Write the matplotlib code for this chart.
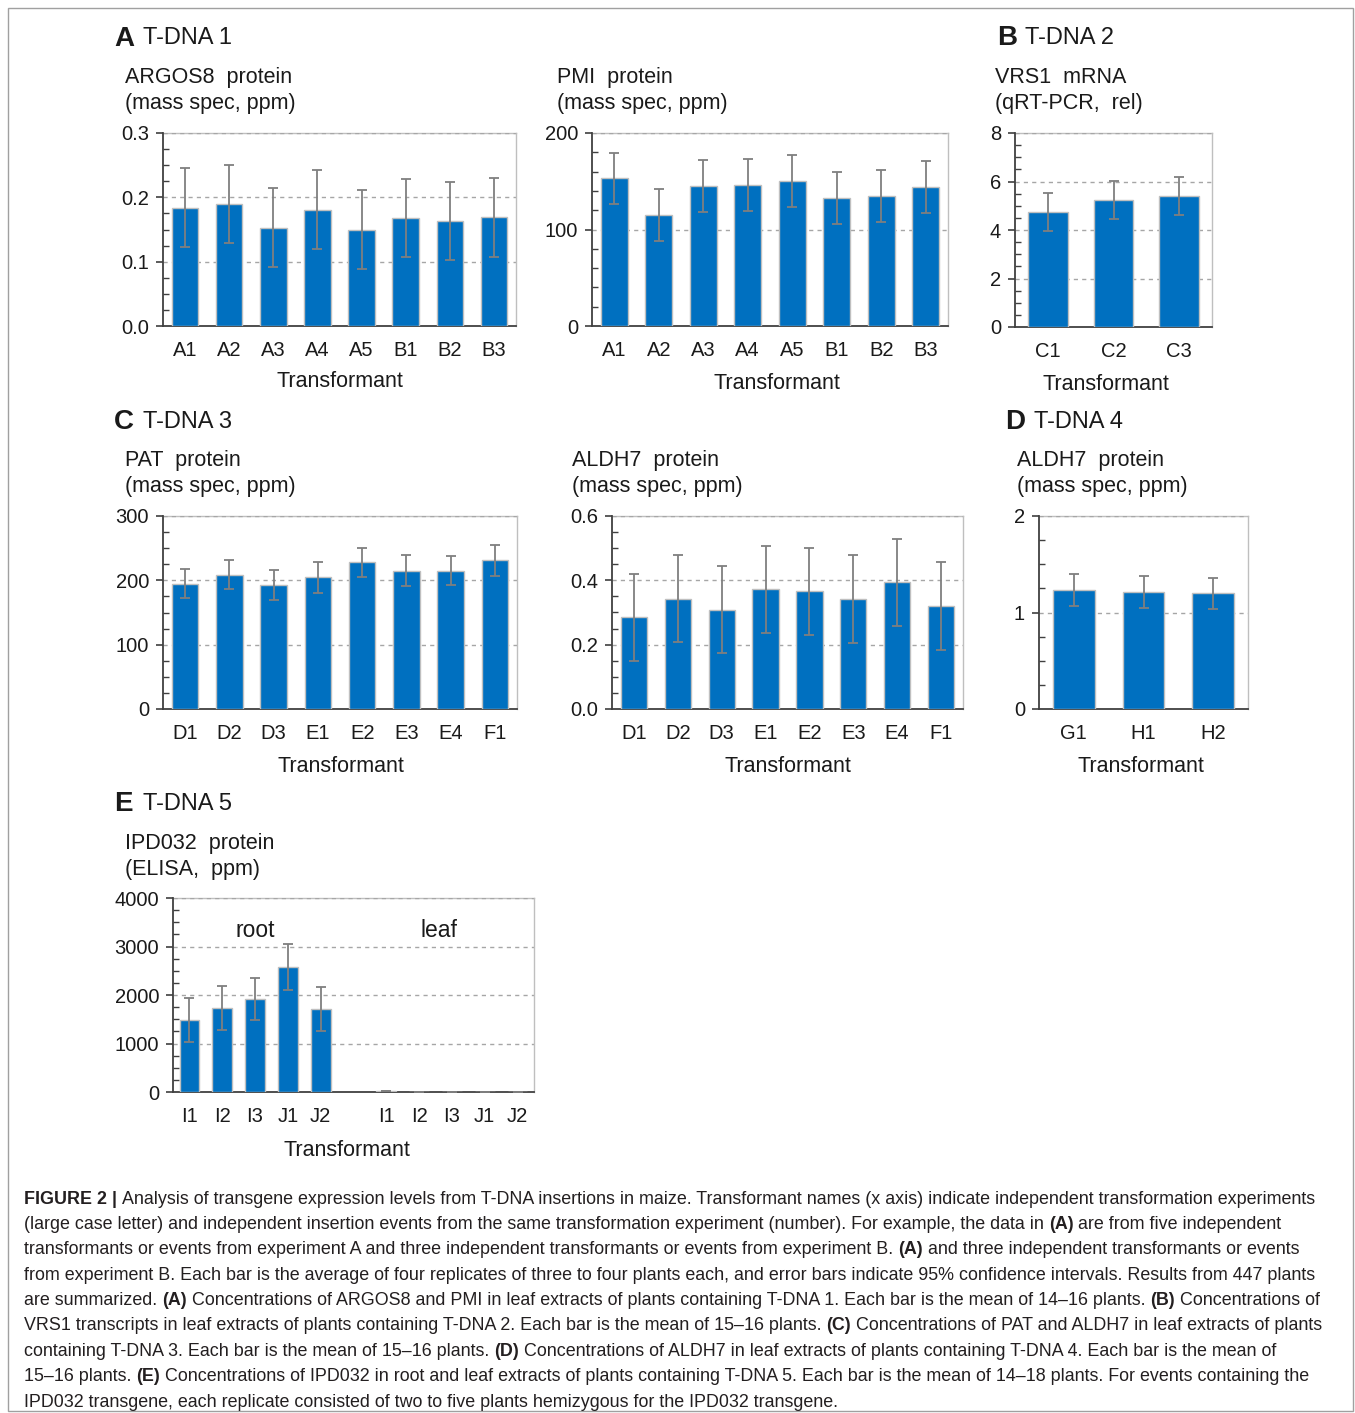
import matplotlib
matplotlib.use("Agg")
import matplotlib.pyplot as plt
from matplotlib.ticker import MultipleLocator, FormatStrFormatter
from matplotlib.patches import Rectangle

W, H = 1355, 1413
DPI = 100

# ---- data -------------------------------------------------------------
argos_labels = ["A1", "A2", "A3", "A4", "A5", "B1", "B2", "B3"]
argos_mean = [0.184, 0.190, 0.153, 0.181, 0.150, 0.168, 0.163, 0.169]
argos_ci = [0.061, 0.061, 0.061, 0.062, 0.061, 0.061, 0.061, 0.061]

pmi_labels = ["A1", "A2", "A3", "A4", "A5", "B1", "B2", "B3"]
pmi_mean = [153, 115, 145, 146, 150, 133, 135, 144]
pmi_ci = [26.5, 27, 27, 27, 27, 27, 27, 27]

vrs_labels = ["C1", "C2", "C3"]
vrs_mean = [4.73, 5.24, 5.41]
vrs_ci = [0.78, 0.77, 0.79]

pat_labels = ["D1", "D2", "D3", "E1", "E2", "E3", "E4", "F1"]
pat_mean = [195, 209, 193, 205, 228, 215, 215, 231]
pat_ci = [23, 23, 23, 24, 23, 24, 23, 24]

aldh_c_labels = ["D1", "D2", "D3", "E1", "E2", "E3", "E4", "F1"]
aldh_c_mean = [0.285, 0.343, 0.309, 0.372, 0.366, 0.341, 0.394, 0.320]
aldh_c_ci = [0.135, 0.135, 0.135, 0.135, 0.135, 0.137, 0.136, 0.136]

aldh_d_labels = ["G1", "H1", "H2"]
aldh_d_mean = [1.233, 1.212, 1.199]
aldh_d_ci = [0.165, 0.165, 0.160]

ipd_labels = ["I1", "I2", "I3", "J1", "J2"]
ipd_root_mean = [1490, 1730, 1920, 2575, 1710]
ipd_root_ci = [455, 450, 440, 480, 445]
ipd_leaf_mean = [20, 2, 2, 2, 2]
ipd_leaf_ci = [4, 1, 1, 1, 1]

caption_lines = [
    "**FIGURE 2 |** Analysis of transgene expression levels from T-DNA insertions in maize. Transformant names (x axis) indicate independent transformation experiments",
    "(large case letter) and independent insertion events from the same transformation experiment (number). For example, the data in **(A)** are from five independent",
    "transformants or events from experiment A and three independent transformants or events from experiment B. **(A)** and three independent transformants or events",
    "from experiment B. Each bar is the average of four replicates of three to four plants each, and error bars indicate 95% confidence intervals. Results from 447 plants",
    "are summarized. **(A)** Concentrations of ARGOS8 and PMI in leaf extracts of plants containing T-DNA 1. Each bar is the mean of 14\u201316 plants. **(B)** Concentrations of",
    "VRS1 transcripts in leaf extracts of plants containing T-DNA 2. Each bar is the mean of 15\u201316 plants. **(C)** Concentrations of PAT and ALDH7 in leaf extracts of plants",
    "containing T-DNA 3. Each bar is the mean of 15\u201316 plants. **(D)** Concentrations of ALDH7 in leaf extracts of plants containing T-DNA 4. Each bar is the mean of",
    "15\u201316 plants. **(E)** Concentrations of IPD032 in root and leaf extracts of plants containing T-DNA 5. Each bar is the mean of 14\u201318 plants. For events containing the",
    "IPD032 transgene, each replicate consisted of two to five plants hemizygous for the IPD032 transgene.",
]

# ---- style ------------------------------------------------------------
plt.rcParams["font.family"] = ["Liberation Sans", "DejaVu Sans"]
BAR = "#0070C0"
BAR_EDGE = "#BFBFBF"
ERR = "#7F7F7F"
GRID = "#A6A6A6"
SPINE_DARK = "#404040"
SPINE_LIGHT = "#BFBFBF"
TXT = "#1a1a1a"
CAP = "#231F20"

TICK_FS = 14.5
SUB_FS = 15.5
HEAD_FS = 17
LETTER_FS = 20
XLAB_FS = 15.5

fig = plt.figure(figsize=(W / DPI, H / DPI), dpi=DPI)
fig.patch.set_facecolor("white")


def fx(x):
    return x / W


def fy(y):
    return 1 - y / H


def add_axes_px(x0, y0, x1, y1):
    return fig.add_axes([fx(x0), fy(y1), (x1 - x0) / W, (y1 - y0) / H])


def panel(box, xpos, labels, means, cis, ymax, major, minor, fmt, xlim):
    ax = add_axes_px(*box)
    ax.bar(xpos, means, width=0.6, color=BAR, edgecolor=BAR_EDGE, linewidth=1.0,
           yerr=cis, error_kw=dict(ecolor=ERR, elinewidth=1.3, capsize=3.5, capthick=1.3),
           zorder=3)
    ax.set_xlim(*xlim)
    ax.set_ylim(0, ymax)
    ax.yaxis.set_major_locator(MultipleLocator(major))
    ax.yaxis.set_minor_locator(MultipleLocator(minor))
    ax.yaxis.set_major_formatter(FormatStrFormatter(fmt))
    ax.set_xticks(xpos)
    ax.set_xticklabels(labels)
    ax.tick_params(axis="x", length=0, pad=10.5, labelsize=TICK_FS, labelcolor=TXT)
    ax.tick_params(axis="y", which="major", direction="out", length=5, width=1.2,
                   color=SPINE_DARK, labelsize=TICK_FS, labelcolor=TXT, pad=5)
    ax.tick_params(axis="y", which="minor", direction="in", length=4, width=1.0,
                   color=SPINE_DARK)
    # dashed horizontal guides at the major ticks above zero
    v = major
    while v <= ymax + 1e-9:
        ax.axhline(v, color=GRID, lw=1.0, ls=(0, (3, 3)), zorder=1)
        v += major
    for side in ("top", "right"):
        ax.spines[side].set_color(SPINE_LIGHT)
        ax.spines[side].set_linewidth(1.0)
    for side in ("left", "bottom"):
        ax.spines[side].set_color(SPINE_DARK)
        ax.spines[side].set_linewidth(1.3)
    ax.spines["top"].set_visible(False)
    ax.plot([0, 1], [1, 1], transform=ax.transAxes, color=SPINE_LIGHT, lw=1.0,
            zorder=0.5, clip_on=False)
    return ax


def text_px(x, y, s, size, weight="normal", ha="left", color=TXT, va="center"):
    return fig.text(fx(x), fy(y), s, fontsize=size, fontweight=weight, ha=ha,
                    va=va, color=color)


def header(xl, xt, y, letter, title):
    text_px(xl, y, letter, LETTER_FS, "bold", va="center_baseline")
    text_px(xt, y, title, HEAD_FS, va="center_baseline")


def subtitle(x, y, line1, line2):
    text_px(x, y, line1, SUB_FS, va="center_baseline")
    text_px(x, y + 26, line2, SUB_FS, va="center_baseline")


def xlabel(x, y):
    text_px(x, y, "Transformant", XLAB_FS, ha="center", va="center_baseline")


# ---- panel A ----------------------------------------------------------
header(114, 143, 36, "A", "T-DNA 1")
subtitle(125, 75, "ARGOS8  protein", "(mass spec, ppm)")
panel((163, 133, 516, 326), list(range(8)), argos_labels, argos_mean, argos_ci,
      0.3, 0.1, 0.025, "%.1f", (-0.5, 7.5))
xlabel(340, 379)

subtitle(557, 75, "PMI  protein", "(mass spec, ppm)")
panel((592, 133, 948, 326), list(range(8)), pmi_labels, pmi_mean, pmi_ci,
      200, 100, 20, "%d", (-0.5, 7.5))
xlabel(777, 381)

# ---- panel B ----------------------------------------------------------
header(997, 1025, 35, "B", "T-DNA 2")
subtitle(995, 75, "VRS1  mRNA", "(qRT-PCR,  rel)")
panel((1015, 133, 1212, 327), list(range(3)), vrs_labels, vrs_mean, vrs_ci,
      8, 2, 0.5, "%d", (-0.5, 2.5))
xlabel(1106, 382)

# ---- panel C ----------------------------------------------------------
header(114, 143, 419, "C", "T-DNA 3")
subtitle(125, 458, "PAT  protein", "(mass spec, ppm)")
panel((163, 516, 517, 709), list(range(8)), pat_labels, pat_mean, pat_ci,
      300, 100, 25, "%d", (-0.5, 7.5))
xlabel(341, 764)

subtitle(572, 458, "ALDH7  protein", "(mass spec, ppm)")
panel((612, 516, 963, 709), list(range(8)), aldh_c_labels, aldh_c_mean, aldh_c_ci,
      0.6, 0.2, 0.05, "%.1f", (-0.5, 7.5))
xlabel(788, 764)

# ---- panel D ----------------------------------------------------------
header(1005, 1034, 419, "D", "T-DNA 4")
subtitle(1017, 458, "ALDH7  protein", "(mass spec, ppm)")
panel((1039, 516, 1248, 709), list(range(3)), aldh_d_labels, aldh_d_mean, aldh_d_ci,
      2, 1, 0.25, "%d", (-0.5, 2.5))
xlabel(1141, 764)

# ---- panel E ----------------------------------------------------------
header(114, 143, 801, "E", "T-DNA 5")
subtitle(125, 841, "IPD032  protein", "(ELISA,  ppm)")
root_x = list(range(5))
leaf_x = [p + 6 for p in range(5)]
axE = panel((173, 898, 534, 1092), root_x + leaf_x, ipd_labels + ipd_labels,
            ipd_root_mean + ipd_leaf_mean, ipd_root_ci + ipd_leaf_ci,
            4000, 1000, 250, "%d", (-0.5, 10.5))
axE.text(2.0, 3380, "root", fontsize=16.5, ha="center", va="center_baseline", color=TXT)
axE.text(7.6, 3380, "leaf", fontsize=16.5, ha="center", va="center_baseline", color=TXT)
xlabel(347, 1148)

# ---- caption ----------------------------------------------------------
renderer = fig.canvas.get_renderer()


def measure(s, size, weight):
    t = fig.text(0, 0, s, fontsize=size, fontweight=weight)
    w = t.get_window_extent(renderer=renderer).width
    t.remove()
    return w


def split_rich(line):
    parts = line.split("**")
    return [(p, i % 2 == 1) for i, p in enumerate(parts) if p]


def rich_width(line, size):
    sp = measure("x x", size, "normal") - measure("xx", size, "normal")
    w = 0
    for s, b in split_rich(line):
        if s.startswith(" "):
            w += sp
        w += measure(s.strip(), size, "bold" if b else "normal")
        if s.endswith(" "):
            w += sp
    return w


def draw_rich(x0, y, line, size):
    sp = measure("x x", size, "normal") - measure("xx", size, "normal")
    x = x0
    for s, b in split_rich(line):
        if s.startswith(" "):
            x += sp
        t = text_px(x, y, s.strip(), size, "bold" if b else "normal", color=CAP,
                    va="center_baseline")
        x += t.get_window_extent(renderer=renderer).width
        if s.endswith(" "):
            x += sp


cap_size = 12.0 * (1294 / rich_width(caption_lines[0], 12.0))
for i, line in enumerate(caption_lines):
    draw_rich(24, 1197 + i * 25.4, line, cap_size)

# outer frame
fig.patches.append(Rectangle((fx(8), fy(1411)), (1353 - 8) / W, (1411 - 8) / H,
                             transform=fig.transFigure, fill=False,
                             edgecolor="#A0A0A0", linewidth=1.0))

fig.savefig("out.png", dpi=DPI, facecolor="white")
